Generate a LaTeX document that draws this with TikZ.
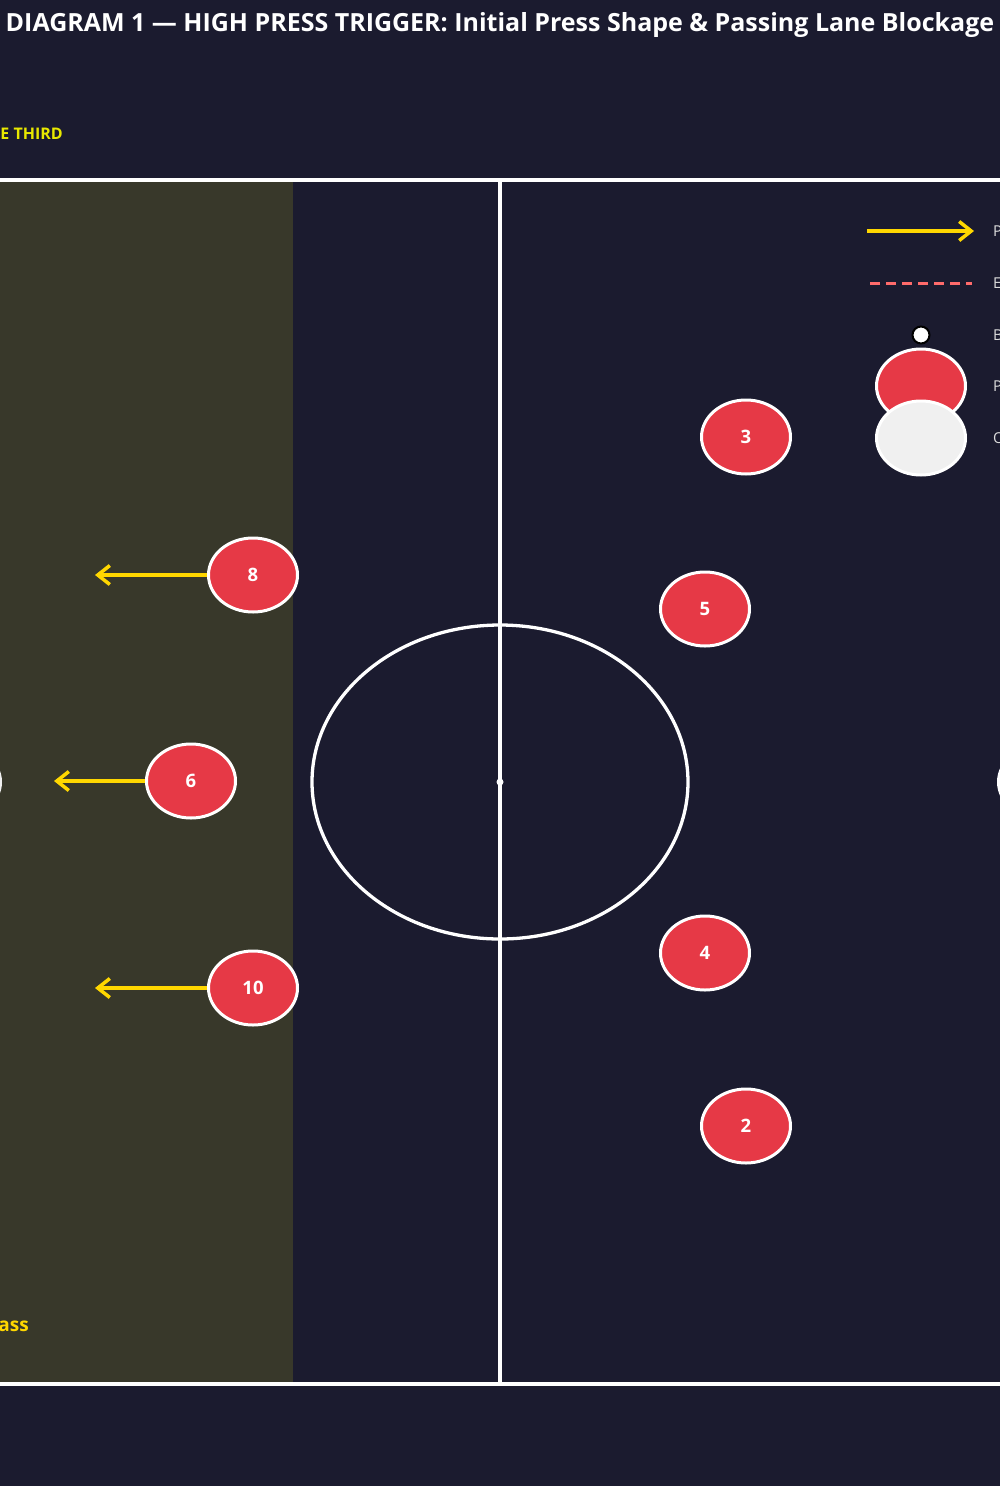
\documentclass[tikz,border=0pt]{standalone}
\usepackage{fontspec}
\setmainfont{Open Sans}
\usetikzlibrary{arrows.meta,shapes.geometric}
\definecolor{bgc}{HTML}{1B1B2F}
\definecolor{zonec}{HTML}{38382A}
\definecolor{redc}{HTML}{E63946}
\definecolor{goldc}{HTML}{FFD700}
\definecolor{yelc}{HTML}{E8E800}
\definecolor{lightc}{HTML}{F0F0F0}
\definecolor{dashc}{HTML}{FF6B6B}
\definecolor{legtxt}{HTML}{DDDDDD}
\tikzset{
  player/.style={ellipse, draw=white, line width=3pt, fill=redc, minimum width=89pt, minimum height=74pt, inner sep=0pt, text=white, font=\fontsize{18.5pt}{20pt}\selectfont\bfseries},
  opp/.style={ellipse, draw=white, line width=3pt, fill=lightc, minimum width=89pt, minimum height=74pt, inner sep=0pt},
  run/.style={draw=goldc, line width=4pt, -{Straight Barb[length=12pt,width=19pt,line width=3.5pt]}},
  pline/.style={draw=white, line width=3.3pt},
  legtext/.style={anchor=west, text=legtxt, font=\fontsize{15pt}{17pt}\selectfont, inner sep=0pt}
}
\begin{document}
\begin{tikzpicture}[x=1pt,y=-1pt]
\useasboundingbox (0,0) rectangle (1000,1486);
\clip (0,0) rectangle (1000,1486);
\fill[bgc] (0,0) rectangle (1000,1486);
% zone
\fill[zonec] (0,180) rectangle (293,1384);
% pitch lines
\draw[pline] (0,180) -- (1000,180);
\draw[pline] (0,1384) -- (1000,1384);
\draw[pline] (500,180) -- (500,1384);
\draw[pline] (500,782) ellipse [x radius=188, y radius=157];
\fill[white] (500,782) circle (3.5);
% partial circles at the edges
\node[opp, fill=none, draw=lightc] (lc) at (-44,782) {};
\node[opp, fill=none] (rc) at (1043,782) {};
% title and labels
\node[text=white, font=\fontsize{25pt}{28pt}\selectfont\bfseries, inner sep=0pt] (title) at (500,25) {DIAGRAM 1 — HIGH PRESS TRIGGER: Initial Press Shape \& Passing Lane Blockage};
\node[anchor=east, text=yelc, font=\fontsize{16pt}{18pt}\selectfont\bfseries, inner sep=0pt] (zlab) at (63,134) {E THIRD};
\node[anchor=east, text=goldc, font=\fontsize{19pt}{21pt}\selectfont\bfseries, inner sep=0pt] (plab) at (29,1326) {ass};
% players
\node[player] (p3) at (746,437) {3};
\node[player] (p5) at (705,609) {5};
\node[player] (p8) at (253,575) {8};
\node[player] (p6) at (191,781) {6};
\node[player] (p10) at (253,988) {10};
\node[player] (p4) at (705,953) {4};
\node[player] (p2) at (746,1126) {2};
% runs
\coordinate (t8) at (95,575);
\coordinate (t6) at (54,781);
\coordinate (t10) at (95,988);
\draw[run] (p8.west) -- (t8);
\draw[run] (p6.west) -- (t6);
\draw[run] (p10.west) -- (t10);
% legend
\coordinate (la1) at (867,231);
\coordinate (la2) at (974,231);
\draw[run] (la1) -- (la2);
\coordinate (ld1) at (870,283);
\coordinate (ld2) at (972,283);
\draw[draw=dashc, line width=3pt, dash pattern=on 10pt off 6pt] (ld1) -- (ld2);
\node[circle, fill=white, draw=black, line width=2pt, minimum size=17pt, inner sep=0pt] (lball) at (921,335) {};
\node[player] (lp) at (921,386) {};
\node[opp] (lo) at (921,438) {};
\node[legtext] (lt1) at (993,231) {P};
\node[legtext] (lt2) at (993,283) {E};
\node[legtext] (lt3) at (993,335) {B};
\node[legtext] (lt4) at (993,386) {P};
\node[legtext] (lt5) at (993,438) {O};
\end{tikzpicture}
\end{document}
